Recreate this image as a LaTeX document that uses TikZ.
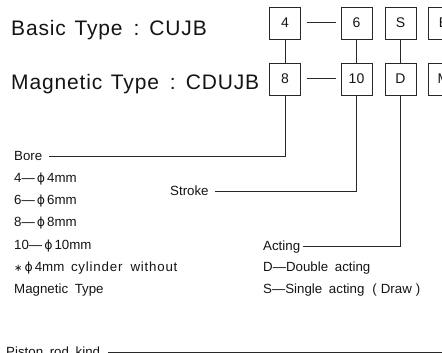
\documentclass[tikz,border=0pt]{standalone}
\usepackage{fontspec}
\setmainfont{Liberation Sans}
\newfontfamily\symfont{DejaVu Sans}
\newfontfamily\headfont[LetterSpace=4, WordSpace=1.3]{Liberation Sans}
\newfontfamily\notefont[WordSpace=1.8]{Liberation Sans}
\newfontfamily\widenotefont[LetterSpace=6, WordSpace=1.8]{Liberation Sans}
\usetikzlibrary{positioning, calc}
\definecolor{codeInk}{RGB}{20, 20, 20}
\definecolor{codeLine}{RGB}{40, 40, 40}
\newcommand{\phisym}{{\symfont\fontsize{12.5}{12.5}\selectfont ϕ}}
\newcommand{\astsym}{{\symfont\fontsize{10}{10}\selectfont ∗}}

\begin{document}
\begin{tikzpicture}[x=1pt, y=-1pt,
    codebox/.style={rectangle, draw=codeLine, line width=0.9pt, minimum width=31pt, minimum height=32pt, inner sep=0pt, font=\fontsize{14}{14}\selectfont, text=codeInk},
    heading/.style={anchor=base west, inner sep=0pt, font=\headfont\fontsize{21}{21}\selectfont, text=codeInk},
    note/.style={anchor=base west, inner sep=0pt, text height=9pt, text depth=2.5pt, font=\notefont\fontsize{13.3}{13.3}\selectfont, text=codeInk},
    lead/.style={draw=codeLine, line width=1pt}
  ]
    \useasboundingbox (0,0) rectangle (442,353);
    \clip (0,0) rectangle (442,353);
    \node[heading] (basic) at (11,36) {Basic Type\hspace{11pt}:\hspace{10pt}CUJB};
    \node[heading] (magnetic) at (11,90) {Magnetic Type\hspace{11pt}:\hspace{10pt}CDUJB};
    % code boxes
    \node[codebox] (b4) at (285,23) {4};
    \node[codebox] (b6) at (356.5,23) {6};
    \node[codebox] (bS) at (400.5,23) {S};
    \node[codebox] (bB) at (443.5,23) {B};
    \node[codebox] (b8) at (285,79) {8};
    \node[codebox] (b10) at (356.5,79) {10};
    \node[codebox] (bD) at (400.5,79) {D};
    \node[codebox] (bM) at (443.5,79) {M};
    \draw[lead, shorten <=6pt, shorten >=5pt] (b4) -- (b6);
    \draw[lead, shorten <=6pt, shorten >=5pt] (b8) -- (b10);
    \draw[lead] (b4) -- (b8);
    \draw[lead] (b6) -- (b10);
    \draw[lead] (bS) -- (bD);
    % bore
    \node[note] (bore) at (14,160) {Bore};
    \node[note] (bore4) at (14,182.3) {4—\hspace{2pt}\phisym\hspace{2pt}4mm};
    \node[note] (bore6) at (14,204.6) {6—\hspace{2pt}\phisym\hspace{2pt}6mm};
    \node[note] (bore8) at (14,226.9) {8—\hspace{2pt}\phisym\hspace{2pt}8mm};
    \node[note] (bore10) at (14,249.2) {10—\hspace{2pt}\phisym\hspace{2pt}10mm};
    \node[note] (nomag) at (14,271.5) {\astsym\hspace{2pt}\phisym\hspace{2pt}4mm {\widenotefont cylinder without}};
    \node[note] (nomag2) at (14,293.8) {Magnetic Type};
    \draw[lead, shorten <=7pt] (bore.east) -| (b8.south);
    % stroke
    \node[note] (stroke) at (170,195) {Stroke};
    \draw[lead, shorten <=6pt] (stroke.east) -| (b10.south);
    % acting
    \node[note] (acting) at (263,250) {Acting};
    \node[note] (actD) at (263,271.7) {D—Double acting};
    \node[note] (actS) at (263,293.3) {S—Single acting\hspace{8pt}(\hspace{4pt}Draw\hspace{4pt})};
    \draw[lead, shorten <=3pt] (acting.east) -| (bD.south);
    % piston rod
    \node[note] (piston) at (6,356) {Piston rod kind};
    \draw[lead, shorten <=8pt] (piston.east) -| (bM.south);
\end{tikzpicture}
\end{document}
